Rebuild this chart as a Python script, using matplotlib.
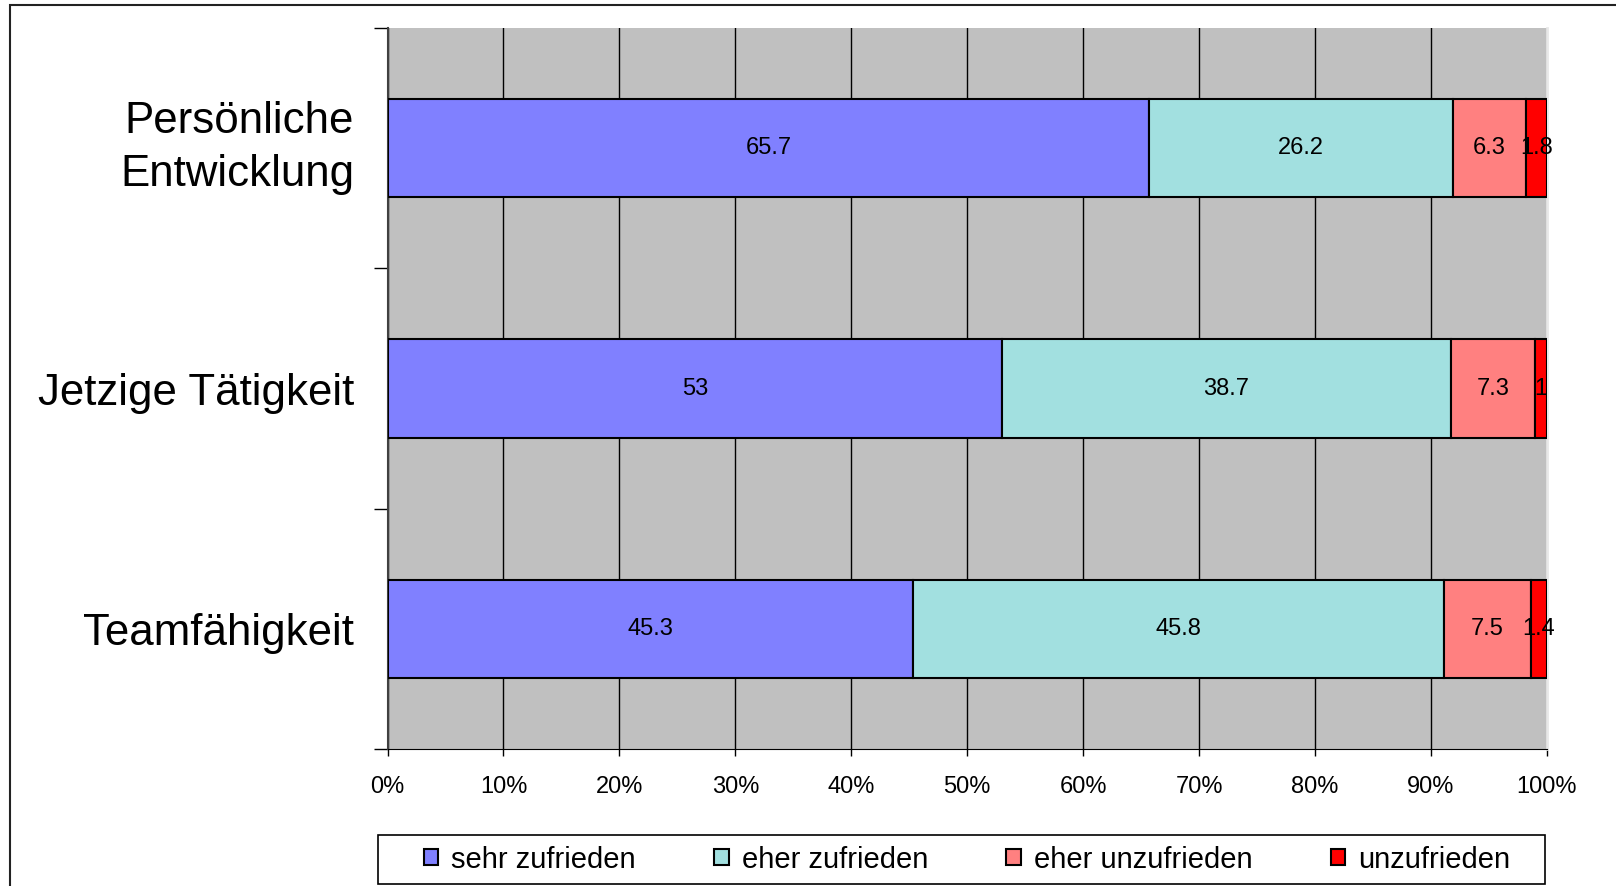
import matplotlib.pyplot as plt
from matplotlib.patches import Rectangle
import numpy as np

plt.rcParams['font.family'] = ['Liberation Sans', 'DejaVu Sans']

# survey answers per topic, in percent
topics = ["Persönliche\nEntwicklung", "Jetzige Tätigkeit", "Teamfähigkeit"]
answers = ["sehr zufrieden", "eher zufrieden", "eher unzufrieden", "unzufrieden"]
sehr_zufrieden = [65.7, 53, 45.3]
eher_zufrieden = [26.2, 38.7, 45.8]
eher_unzufrieden = [6.3, 7.3, 7.5]
unzufrieden = [1.8, 1, 1.4]
colors = ["#8080FF", "#A2E0E0", "#FF8080", "#FF0000"]

series = [sehr_zufrieden, eher_zufrieden, eher_unzufrieden, unzufrieden]

W, H = 1616, 886
fig = plt.figure(figsize=(W / 100, H / 100), dpi=100)
ax = fig.add_axes([0.2398, 0.1546, 0.9573 - 0.2398, 0.9684 - 0.1546])
ax.set_facecolor("#C0C0C0")

y = np.arange(len(topics))
left = np.zeros(len(topics))
for vals, name, col in zip(series, answers, colors):
    vals = np.array(vals, dtype=float)
    bars = ax.barh(y, vals, left=left, height=0.41, color=col,
                   edgecolor="black", linewidth=1.5, label=name, zorder=3)
    labels = [f"{v:g}" for v in vals]
    ax.bar_label(bars, labels=labels, label_type="center", fontsize=17, zorder=4)
    left += vals

ax.set_xlim(0, 100)
ax.set_ylim(len(topics) - 0.5, -0.5)

ax.set_xticks(np.arange(0, 101, 10))
ax.set_xticklabels([f"{t}%" for t in range(0, 101, 10)], fontsize=17)
ax.tick_params(axis="x", length=5, width=1, pad=14.5)
ax.xaxis.grid(True, color="black", linewidth=1, zorder=1)
ax.set_axisbelow(True)

ax.set_yticks(y)
ylabels = ax.set_yticklabels(topics, fontsize=31.6, ha="right", linespacing=1.36)
ylabels[0].set_verticalalignment("center")
ax.tick_params(axis="y", which="major", length=0, pad=24)
ax.set_yticks(np.arange(len(topics) + 1) - 0.5, minor=True)
ax.tick_params(axis="y", which="minor", length=10, width=1)

ax.spines["top"].set_visible(False)
ax.spines["right"].set_color("#E8E8E8")
ax.spines["right"].set_linewidth(2)
ax.spines["left"].set_color("#404040")
ax.spines["left"].set_linewidth(1.5)
ax.spines["bottom"].set_color("black")

# outer chart frame (runs off the right and bottom edge)
fig.patches.append(Rectangle((10 / W, -0.1), 1.2, 1.1 - 5 / H,
                             transform=fig.transFigure, fill=False,
                             edgecolor="#222222", linewidth=1.5))

# legend box, entries placed inside it
fig.patches.append(Rectangle((378 / W, 1 - 884 / H), (1545 - 378) / W, 49 / H,
                             transform=fig.transFigure, fill=False,
                             edgecolor="black", linewidth=1.2))
leg = fig.legend(loc="center", ncol=4, mode="expand",
                 bbox_to_anchor=(409 / W, 1 - 882 / H, (1525 - 409) / W, 45 / H),
                 fontsize=21, handlelength=0.5, handleheight=0.5,
                 handletextpad=0.45, borderpad=0, frameon=False)

fig.savefig("out.png", dpi=100)
